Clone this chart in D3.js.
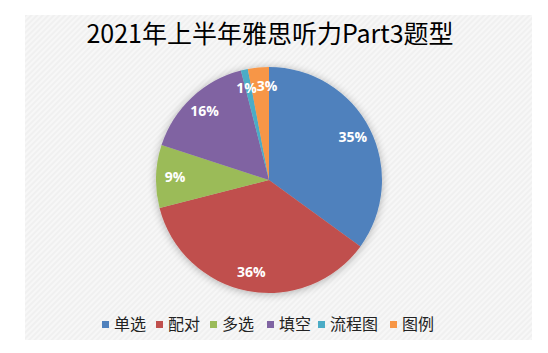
<!DOCTYPE html>
<html>
<head>
<meta charset="utf-8">
<script src="https://cdn.jsdelivr.net/npm/d3@7"></script>
<style>
  body { margin: 0; background: #fff; }
  svg { display: block; }
</style>
</head>
<body>
<div id="chart"></div>
<script>
// data
const categories = ["单选", "配对", "多选", "填空", "流程图", "图例"];
const values = [35, 36, 9, 16, 1, 3];
const labels = ["35%", "36%", "9%", "16%", "1%", "3%"];
const colors = ["#4f81bd", "#c0504d", "#9bbb59", "#8064a2", "#4bacc6", "#f79646"];

const width = 548, height = 353;
const cx = 269, cy = 180, radius = 113;

const svg = d3.select("#chart").append("svg")
  .attr("width", width)
  .attr("height", height);

const defs = svg.append("defs");

// faint diagonal texture of the chart area
const pat = defs.append("pattern")
  .attr("id", "stripes")
  .attr("width", 4).attr("height", 4)
  .attr("patternUnits", "userSpaceOnUse")
  .attr("patternTransform", "rotate(45)");
pat.append("rect").attr("width", 4).attr("height", 4).attr("fill", "#f7f7f7");
pat.append("rect").attr("width", 2).attr("height", 4).attr("fill", "#f0f0f0");

const shadow = defs.append("filter")
  .attr("id", "shadow")
  .attr("x", "-20%").attr("y", "-20%")
  .attr("width", "140%").attr("height", "140%");
shadow.append("feGaussianBlur").attr("in", "SourceAlpha").attr("stdDeviation", 4);
shadow.append("feOffset").attr("dx", 0).attr("dy", 1).attr("result", "blur");
shadow.append("feComponentTransfer").append("feFuncA").attr("type", "linear").attr("slope", 0.3);
const merge = shadow.append("feMerge");
merge.append("feMergeNode");
merge.append("feMergeNode").attr("in", "SourceGraphic");

svg.append("rect")
  .attr("x", 25).attr("y", 15)
  .attr("width", 507).attr("height", 325)
  .attr("fill", "url(#stripes)");

// title
svg.append("text")
  .attr("x", 270)
  .attr("y", 43)
  .attr("text-anchor", "middle")
  .attr("font-family", "'Noto Sans CJK SC', sans-serif")
  .attr("font-size", 25)
  .attr("fill", "#000")
  .text("2021年上半年雅思听力Part3题型");

// pie
const pie = d3.pie().sort(null).value(d => d)(values);
const arc = d3.arc().innerRadius(0).outerRadius(radius);
const labelArc = d3.arc().innerRadius(94).outerRadius(94);

const g = svg.append("g").attr("transform", "translate(" + cx + "," + cy + ")");

g.append("g")
  .attr("filter", "url(#shadow)")
  .selectAll("path")
  .data(pie)
  .enter().append("path")
  .attr("d", arc)
  .attr("fill", (d, i) => colors[i]);

g.selectAll(".labels")
  .data(pie)
  .enter().append("text")
  .attr("class", "labels")
  .attr("transform", (d, i) => {
    let c = labelArc.centroid(d);
    // small labels are pushed apart a bit, like the original
    if (i === 5) c[0] += 7;
    if (i === 4) c[0] -= 2;
    return "translate(" + c + ")";
  })
  .attr("text-anchor", "middle")
  .attr("dy", "0.35em")
  .attr("font-family", "'Open Sans', 'Noto Sans', sans-serif")
  .attr("font-weight", "bold")
  .attr("font-size", 14)
  .attr("fill", "#fff")
  .text((d, i) => labels[i]);

// legend
const legendX = [102, 156, 210, 267, 318, 390];
const legend = svg.append("g");
const item = legend.selectAll(".legend-item")
  .data(categories)
  .enter().append("g")
  .attr("class", "legend-item")
  .attr("transform", (d, i) => "translate(" + legendX[i] + ",324.5)");

item.append("rect")
  .attr("x", 0).attr("y", -3.5)
  .attr("width", 7).attr("height", 7)
  .attr("fill", (d, i) => colors[i]);

item.append("text")
  .attr("x", 12)
  .attr("dy", "0.36em")
  .attr("font-family", "'Noto Sans CJK SC', sans-serif")
  .attr("font-size", 16)
  .attr("fill", "#222")
  .text(d => d);
</script>
</body>
</html>
